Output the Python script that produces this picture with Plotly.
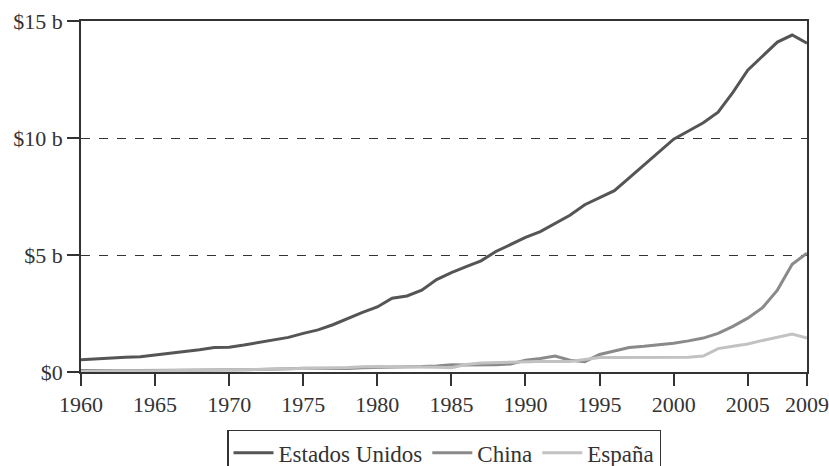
import plotly.graph_objects as go

years = list(range(1960, 2010))

# PIB, billones de dólares
estados_unidos = [
    0.52, 0.56, 0.62, 0.63, 0.65, 0.72, 0.80, 0.87, 0.95, 1.05,
    1.06, 1.15, 1.26, 1.38, 1.48, 1.65, 1.80, 2.02, 2.30, 2.55,
    2.78, 3.15, 3.25, 3.50, 3.95, 4.25, 4.50, 4.75, 5.15, 5.45,
    5.75, 6.00, 6.35, 6.70, 7.15, 7.45, 7.75, 8.30, 8.85, 9.40,
    9.95, 10.30, 10.65, 11.10, 11.95, 12.90, 13.50, 14.10, 14.40, 14.05,
]
china = [
    0.06, 0.05, 0.05, 0.05, 0.06, 0.07, 0.08, 0.07, 0.07, 0.08,
    0.09, 0.10, 0.11, 0.14, 0.14, 0.16, 0.15, 0.17, 0.15, 0.18,
    0.19, 0.20, 0.20, 0.23, 0.26, 0.31, 0.30, 0.29, 0.31, 0.34,
    0.50, 0.58, 0.68, 0.50, 0.44, 0.75, 0.90, 1.05, 1.10, 1.15,
    1.23, 1.33, 1.45, 1.65, 1.95, 2.30, 2.75, 3.50, 4.60, 5.08,
]
espana = [
    0.02, 0.03, 0.03, 0.04, 0.05, 0.05, 0.06, 0.06, 0.07, 0.07,
    0.08, 0.09, 0.10, 0.12, 0.14, 0.15, 0.16, 0.17, 0.19, 0.22,
    0.24, 0.22, 0.22, 0.22, 0.20, 0.18, 0.32, 0.38, 0.40, 0.42,
    0.45, 0.45, 0.45, 0.45, 0.53, 0.62, 0.62, 0.62, 0.62, 0.60,
    0.60, 0.63, 0.68, 1.00, 1.10, 1.20, 1.35, 1.50, 1.62, 1.45,
]

x_ticks = [1960, 1965, 1970, 1975, 1980, 1985, 1990, 1995, 2000, 2005, 2009]
y_ticks = [0, 5, 10, 15]
y_labels = ["$0", "$5 b", "$10 b", "$15 b"]

series = [
    ("Estados Unidos", estados_unidos, "#555555"),
    ("China", china, "#8a8a8a"),
    ("España", espana, "#c2c2c2"),
]

fig = go.Figure()
for name, values, color in series:
    fig.add_trace(
        go.Scatter(
            x=years,
            y=values,
            mode="lines",
            name=name,
            line=dict(color=color, width=3),
        )
    )

axis_style = dict(
    showline=True,
    linecolor="#333333",
    linewidth=1.5,
    mirror=True,
    ticks="outside",
    ticklen=12,
    tickwidth=1.5,
    tickcolor="#333333",
    zeroline=False,
)

fig.update_xaxes(
    range=[1960, 2009],
    tickvals=x_ticks,
    showgrid=False,
    **axis_style,
)
fig.update_yaxes(
    range=[0, 15],
    tickvals=y_ticks,
    ticktext=y_labels,
    showgrid=True,
    gridcolor="#333333",
    gridwidth=1,
    griddash="dash",
    **axis_style,
)

fig.update_layout(
    width=829,
    height=466,
    template="plotly_white",
    plot_bgcolor="white",
    paper_bgcolor="white",
    font=dict(family="Liberation Serif", size=22, color="#333333"),
    margin=dict(l=81, r=22, t=21, b=94, autoexpand=False),
    showlegend=True,
    legend=dict(
        orientation="h",
        x=0.5,
        xanchor="center",
        y=-0.165,
        yanchor="top",
        bordercolor="#333333",
        borderwidth=1.5,
        itemwidth=40,
        font=dict(size=23),
    ),
)

# page without the default body margin so the figure sits at 0,0
fig.write_html(
    "out.html",
    config={"displayModeBar": False},
    post_script="document.body.style.margin='0';",
)
